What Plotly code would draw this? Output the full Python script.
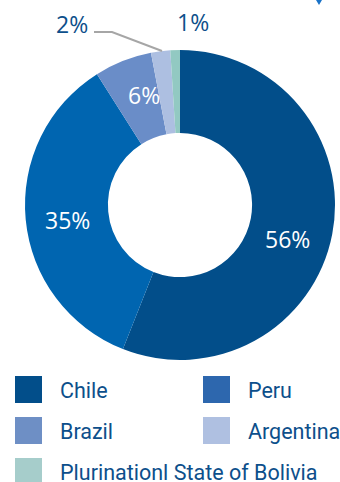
import math
import plotly.graph_objects as go

# Share by country
countries = ["Chile", "Peru", "Brazil", "Argentina", "Plurinationl State of Bolivia"]
shares = [56, 35, 6, 2, 1]
slice_colors = ["#024e8a", "#0065b0", "#6a8dc8", "#adbfe1", "#92c9c2"]
legend_colors = ["#024e8a", "#2d67ae", "#6e8fc5", "#afc0e1", "#a6cdcb"]

W, H = 340, 482
CX, CY, R = 180, 205, 155   # donut centre and outer radius, px
HOLE = 0.465

def px(x):
    return x / W

def py(y):
    return 1 - y / H

fig = go.Figure(go.Pie(
    labels=countries,
    values=shares,
    sort=False,
    direction="clockwise",
    rotation=0,
    hole=HOLE,
    marker=dict(colors=slice_colors, line=dict(width=0)),
    textinfo="none",
    hoverinfo="label+percent",
    showlegend=False,
    domain=dict(x=[px(CX - R), px(CX + R)], y=[py(CY + R), py(CY - R)]),
))

# percentage labels: (left x, centre y, colour) per slice
label_pos = [(263, 239, "white"), (43, 220, "white"), (126, 95, "white"),
             (54, 24, "#0d4f8b"), (175, 22, "#0d4f8b")]
for v, (x, y, c) in zip(shares, label_pos):
    fig.add_annotation(x=px(x), y=py(y), xref="paper", yref="paper",
                       text=f"{v}%", showarrow=False,
                       font=dict(family="Open Sans", size=23, color=c),
                       xanchor="left", yanchor="middle")

# leader line for the small Argentina slice
fig.add_shape(type="path", xref="paper", yref="paper",
              path=f"M {px(94)} {py(32)} L {px(112)} {py(32)} L {px(162)} {py(51)}",
              line=dict(color="#a6a6a6", width=2))

# small marker at top right
fig.add_shape(type="path", xref="paper", yref="paper",
              path=f"M {px(316)} {py(0)} L {px(322)} {py(0)} L {px(319)} {py(5)} Z",
              fillcolor="#1a73c8", line=dict(width=0))

# legend in two columns
col_x = [15, 203]
row_y = [376, 417, 458]
SQ = 27
for i, (name, col) in enumerate(zip(countries, legend_colors)):
    r, c = divmod(i, 2)
    x0, y0 = col_x[c], row_y[r]
    fig.add_shape(type="rect", xref="paper", yref="paper",
                  x0=px(x0), x1=px(x0 + SQ), y0=py(y0 + SQ), y1=py(y0),
                  fillcolor=col, line=dict(width=0))
    fig.add_annotation(x=px(x0 + 43), y=py(y0 + SQ / 2 + 1), xref="paper", yref="paper",
                       text=name, showarrow=False,
                       font=dict(family="Roboto", size=21.5, color="#0d4f8b"),
                       xanchor="left", yanchor="middle")

fig.update_layout(
    width=W, height=H,
    margin=dict(l=0, r=0, t=0, b=0),
    paper_bgcolor="white",
    plot_bgcolor="white",
)

fig.write_html("out.html")
